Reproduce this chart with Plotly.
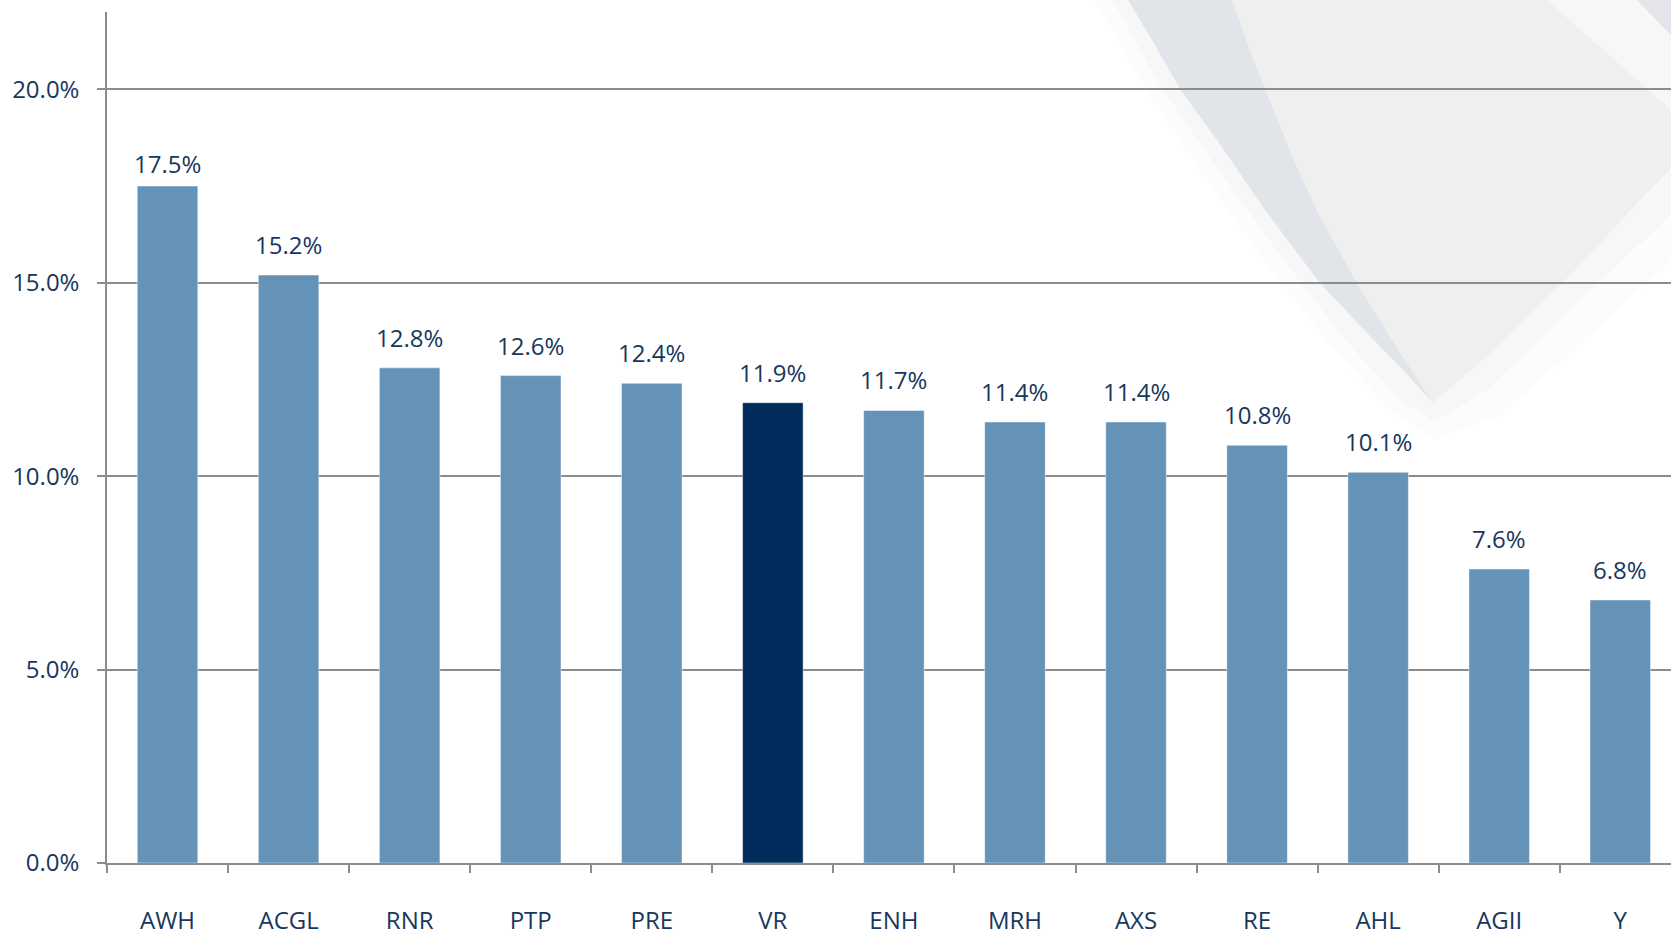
import plotly.graph_objects as go

categories = ["AWH", "ACGL", "RNR", "PTP", "PRE", "VR", "ENH", "MRH", "AXS", "RE", "AHL", "AGII", "Y"]
values = [17.5, 15.2, 12.8, 12.6, 12.4, 11.9, 11.7, 11.4, 11.4, 10.8, 10.1, 7.6, 6.8]
highlight = "VR"

LIGHT = "#6592B7"
DARK = "#002D5C"
NAVY = "#17375E"
GRID = "#8C8C8C"
FONT = "Open Sans"
FS = 24

W, H = 1671, 937
ML, MR, MT, MB = 107, 0, 12, 74
PW, PH = W - ML - MR, H - MT - MB


def P(x, y):
    return (x - ML) / PW, (H - MB - y) / PH


def path(pts):
    s = []
    for i, (x, y) in enumerate(pts):
        px, py = P(x, y)
        s.append(("M" if i == 0 else "L") + f"{px:.5f},{py:.5f}")
    return " ".join(s) + " Z"


outer = [(1128, 0), (1155, 45), (1180, 89), (1217, 140), (1263, 207), (1292, 246), (1320, 283),
         (1367, 333), (1403, 370), (1433, 403)]
inner = [(1232, 0), (1248, 45), (1265, 89), (1297, 167), (1320, 217), (1357, 283), (1390, 337),
         (1433, 403)]
light_right = [(1433, 403), (1500, 345), (1580, 265), (1640, 200), (1671, 168), (1671, 110), (1547, 0)]

shapes = []


def add(pts, color):
    shapes.append(dict(type="path", path=path(pts), xref="paper", yref="paper",
                       fillcolor=color, line=dict(width=0), layer="below"))


# soft whitish halo around the swoosh
halo = [(1095, 0), (1140, 80), (1200, 170), (1260, 255), (1330, 345), (1390, 410), (1435, 440),
        (1500, 415), (1580, 345), (1671, 260), (1671, 0)]
add(halo, "#FCFCFC")
halo2 = [(1112, 0), (1160, 85), (1215, 165), (1280, 255), (1345, 340), (1400, 400), (1435, 422),
         (1490, 388), (1580, 300), (1671, 215), (1671, 0)]
add(halo2, "#F7F7F7")
add(inner + light_right[1:], "#EFEFEF")
add(outer + list(reversed(inner))[1:], "#E1E4E9")
add([(1637, 0), (1671, 0), (1671, 35)], "#E3E5EA")

colors = [DARK if c == highlight else LIGHT for c in categories]
label_lift = [4 if c == "AWH" else 12 for c in categories]

fig = go.Figure(go.Bar(
    x=categories, y=values,
    marker=dict(color=colors, line=dict(color="rgba(255,255,255,0.45)", width=1)),
    width=0.5,
    hoverinfo="x+y",
))

for c, v, s in zip(categories, values, label_lift):
    fig.add_annotation(x=c, y=v, text=f"{v:.1f}%", showarrow=False,
                       yanchor="bottom", xanchor="center", yshift=s,
                       font=dict(family=FONT, size=FS, color=NAVY))

fig.update_layout(
    width=W, height=H,
    margin=dict(l=ML, r=MR, t=MT, b=MB, pad=0, autoexpand=False),
    paper_bgcolor="white",
    plot_bgcolor="rgba(0,0,0,0)",
    showlegend=False,
    shapes=shapes,
    font=dict(family=FONT, color=NAVY, size=FS),
    xaxis=dict(
        type="category", range=[-0.5, 12.419], automargin=False,
        showline=True, linecolor=GRID, linewidth=1.5,
        ticks="outside", tickson="boundaries", ticklen=8, tickcolor=GRID, tickwidth=1.5,
        tickfont=dict(family=FONT, size=FS, color=NAVY),
        ticklabelstandoff=35,
        showgrid=False,
    ),
    yaxis=dict(
        range=[0, 22], dtick=5, tick0=0, automargin=False,
        tickformat=".1f", ticksuffix="%",
        showline=True, linecolor=GRID, linewidth=1.5,
        ticks="outside", ticklen=8, tickcolor=GRID, tickwidth=1.5,
        showgrid=True, gridcolor=GRID, gridwidth=1.5,
        zeroline=False,
        tickfont=dict(family=FONT, size=FS, color=NAVY),
        ticklabelstandoff=13,
    ),
)

fig.write_html("out.html", config={"displayModeBar": False},
               post_script="document.body.style.margin='0';")
